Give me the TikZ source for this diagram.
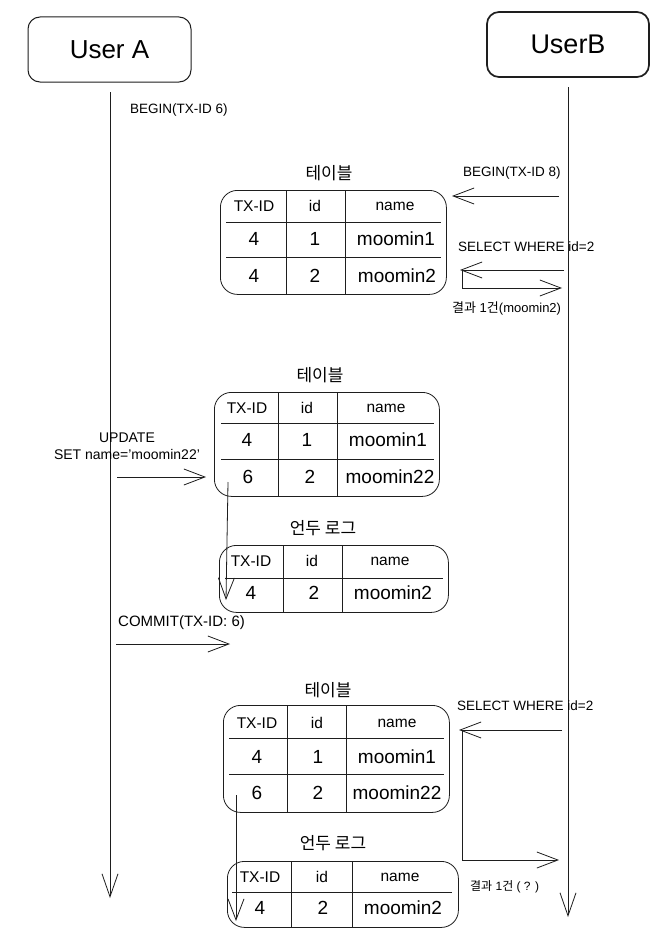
\documentclass[tikz,border=0pt]{standalone}
\usepackage{fontspec}
\setmainfont{Liberation Sans}
\newfontfamily\kofont{Noto Sans CJK KR}
\usetikzlibrary{arrows.meta}
\definecolor{ink}{HTML}{1E1E1E}
\tikzset{
  actor/.style={draw=ink, rounded corners=12pt, line width=1pt, inner sep=0pt},
  tbl/.style={draw=ink, rounded corners=17pt, line width=0.8pt, inner sep=0pt},
  grid/.style={draw=ink, line width=0.8pt},
  hd/.style={inner sep=0pt, font=\fontsize{15.5}{18}\selectfont},
  cell/.style={inner sep=0pt, font=\fontsize{19}{22}\selectfont},
  lbl/.style={inner sep=0pt, font=\fontsize{13.5}{17}\selectfont},
  ko/.style={inner sep=0pt, font=\kofont\fontsize{17}{20}\selectfont},
  arr/.style={draw=ink, line width=0.8pt, -{Straight Barb[length=21pt,width=16pt,line width=0.8pt]}},
  life/.style={draw=ink, line width=0.8pt, -{Straight Barb[length=23pt,width=16pt,line width=0.8pt]}},
  seg/.style={draw=ink, line width=0.8pt},
}
\begin{document}
\begin{tikzpicture}[x=1pt,y=-1pt]
\useasboundingbox[fill=white] (0,0) rectangle (668,934);

% actors
\node[actor, minimum width=163pt, minimum height=65pt, font=\fontsize{26}{30}\selectfont] (ua) at (109.5,49.5) {User A};
\node[actor, line width=1.7pt, minimum width=162pt, minimum height=65pt, font=\fontsize{27}{30}\selectfont] (ub) at (568,44.5) {UserB};

% lifelines
\coordinate (uaTop) at (110,92);
\coordinate (uaEnd) at (110,898);
\coordinate (ubTop) at (568,87);
\coordinate (ubEnd) at (568,917);
\draw[life] (uaTop) -- (uaEnd);
\draw[life] (ubTop) -- (ubEnd);

\node[lbl, anchor=west] (beginA) at (130,110) {BEGIN(TX-ID 6)};

% ---------- table 1 ----------
\node[ko] (t1title) at (329,173) {테이블};
\node[tbl, anchor=north west, minimum width=226pt, minimum height=104pt] (t1) at (220,190) {};
\draw[grid] (286,191) -- (286,295);
\draw[grid] (345,191) -- (345,295);
\draw[grid] (226,222) -- (441,222);
\draw[grid] (226,257) -- (441,257);
\node[hd] (t1h1) at (254,206) {TX-ID};
\node[hd] (t1h2) at (315,206) {id};
\node[hd] (t1h3) at (395,206) {name};
\node[cell] (t1a1) at (254,239) {4};
\node[cell] (t1a2) at (315,239) {1};
\node[cell] (t1a3) at (396,239) {moomin1};
\node[cell] (t1b1) at (254,276) {4};
\node[cell] (t1b2) at (315,276) {2};
\node[cell] (t1b3) at (397,276) {moomin2};

% begin B
\node[lbl, anchor=west] (beginB) at (463,173) {BEGIN(TX-ID 8)};
\coordinate (bB1) at (559,196);
\coordinate (bB2) at (452,196);
\draw[arr] (bB1) -- (bB2);

% select 1
\node[lbl, anchor=west] (sel1) at (458,247) {SELECT WHERE id=2};
\coordinate (s1a) at (564,270);
\coordinate (s1b) at (460,270);
\coordinate (s1c) at (462,271);
\coordinate (s1d) at (462,288);
\coordinate (s1e) at (562,288);
\draw[arr] (s1a) -- (s1b);
\draw[seg] (s1c) -- (s1d);
\draw[arr] (s1d) -- (s1e);
\node[lbl, anchor=west, font=\fontsize{13}{16}\selectfont] (res1) at (452,308) {{\kofont 결과} 1{\kofont 건}(moomin2)};

% ---------- table 2 ----------
\node[ko] (t2title) at (320,375) {테이블};
\node[tbl, anchor=north west, minimum width=225pt, minimum height=104pt] (t2) at (214,392) {};
\draw[grid] (278,393) -- (278,497);
\draw[grid] (337,393) -- (337,497);
\draw[grid] (221,423) -- (434,423);
\draw[grid] (221,459) -- (434,459);
\node[hd] (t2h1) at (247,408) {TX-ID};
\node[hd] (t2h2) at (307,408) {id};
\node[hd] (t2h3) at (386,408) {name};
\node[cell] (t2a1) at (247,440) {4};
\node[cell] (t2a2) at (307,440) {1};
\node[cell] (t2a3) at (388,440) {moomin1};
\node[cell] (t2b1) at (248,477) {6};
\node[cell] (t2b2) at (310,477) {2};
\node[cell] (t2b3) at (390,477) {moomin22};

% update
\node[lbl, align=center, font=\fontsize{14}{17}\selectfont] (upd) at (127,446) {UPDATE\\SET name='moomin22'};
\coordinate (u1) at (117,477);
\coordinate (u2) at (206,477);
\draw[arr] (u1) -- (u2);

% arrow to undo log 1
\coordinate (d1a) at (228,482);
\coordinate (d1b) at (226,600);
\draw[arr] (d1a) -- (d1b);

% ---------- undo log 1 ----------
\node[ko] (u1title) at (323,528) {언두 로그};
\node[tbl, anchor=north west, minimum width=229pt, minimum height=67pt] (ul1) at (219,545) {};
\draw[grid] (283,546) -- (283,613);
\draw[grid] (342,546) -- (342,613);
\draw[grid] (225,578) -- (443,578);
\node[hd] (u1h1) at (251,561) {TX-ID};
\node[hd] (u1h2) at (312,561) {id};
\node[hd] (u1h3) at (390,561) {name};
\node[cell] (u1a1) at (251,593) {4};
\node[cell] (u1a2) at (314,593) {2};
\node[cell] (u1a3) at (393,593) {moomin2};

% commit
\node[lbl, anchor=west, font=\fontsize{15}{18}\selectfont] (commit) at (118,623) {COMMIT(TX-ID: 6)};
\coordinate (c1) at (116,644);
\coordinate (c2) at (230,644);
\draw[arr] (c1) -- (c2);

% ---------- table 3 ----------
\node[ko] (t3title) at (328,690) {테이블};
\node[tbl, anchor=north west, minimum width=226pt, minimum height=107pt] (t3) at (223,705) {};
\draw[grid] (287,706) -- (287,813);
\draw[grid] (346,706) -- (346,813);
\draw[grid] (229,738) -- (444,738);
\draw[grid] (229,774) -- (444,774);
\node[hd] (t3h1) at (257,723) {TX-ID};
\node[hd] (t3h2) at (317,723) {id};
\node[hd] (t3h3) at (397,723) {name};
\node[cell] (t3a1) at (257,757) {4};
\node[cell] (t3a2) at (318,757) {1};
\node[cell] (t3a3) at (397,757) {moomin1};
\node[cell] (t3b1) at (257,793) {6};
\node[cell] (t3b2) at (318,793) {2};
\node[cell] (t3b3) at (397,793) {moomin22};

% select 2
\node[lbl, anchor=west] (sel2) at (457,706) {SELECT WHERE id=2};
\coordinate (s2a) at (562,730);
\coordinate (s2b) at (459,730);
\coordinate (s2c) at (462,731);
\coordinate (s2d) at (462,860);
\coordinate (s2e) at (559,860);
\draw[arr] (s2a) -- (s2b);
\draw[seg] (s2c) -- (s2d);
\draw[arr] (s2d) -- (s2e);
\node[lbl, anchor=west, font=\fontsize{12}{15}\selectfont] (res2) at (470,887) {{\kofont 결과} 1{\kofont 건} ( ? )};

% arrow to undo log 2
\coordinate (d2a) at (236,795);
\coordinate (d2b) at (236,921);
\draw[arr] (d2a) -- (d2b);

% ---------- undo log 2 ----------
\node[ko] (u2title) at (333,843) {언두 로그};
\node[tbl, anchor=north west, minimum width=231pt, minimum height=66pt] (ul2) at (227,861) {};
\draw[grid] (291,862) -- (291,928);
\draw[grid] (352,862) -- (352,928);
\draw[grid] (232,892) -- (452,892);
\node[hd] (u2h1) at (260,877) {TX-ID};
\node[hd] (u2h2) at (322,877) {id};
\node[hd] (u2h3) at (400,877) {name};
\node[cell] (u2a1) at (260,908) {4};
\node[cell] (u2a2) at (323,908) {2};
\node[cell] (u2a3) at (403,908) {moomin2};

\end{tikzpicture}
\end{document}
